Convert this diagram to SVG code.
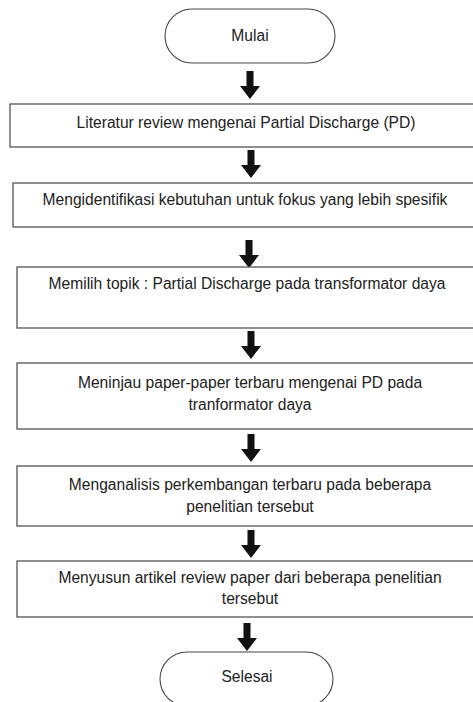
<svg xmlns="http://www.w3.org/2000/svg" width="473" height="702" viewBox="0 0 473 702">
<defs>
<style>
.box{fill:#fff;stroke:#555;stroke-width:1.3}
.term{fill:#fff;stroke:#444;stroke-width:1.1}
.t{font-family:"Liberation Sans",Arial,sans-serif;font-size:15.6px;fill:#222;text-anchor:middle}
.arr{fill:#111}
</style>
<symbol id="arrow" overflow="visible">
<path d="M-3.5,0 H3.5 V15 H10 L0,28 L-10,15 H-3.5 Z"/>
</symbol>
</defs>
<rect width="473" height="702" fill="#fff"/>
<g id="connectors" class="arr">
<use href="#arrow" x="250" y="71"/>
<use href="#arrow" x="251" y="150"/>
<use href="#arrow" x="249" y="240"/>
<use href="#arrow" x="251" y="331"/>
<use href="#arrow" x="251" y="434"/>
<use href="#arrow" x="251" y="530"/>
<use href="#arrow" x="247" y="623"/>
</g>
<g id="mulai">
<rect class="term" x="165" y="9" width="170" height="54" rx="27"/>
<text class="t" x="250" y="41">Mulai</text>
</g>
<g id="step1">
<rect class="box" x="10" y="104" width="475" height="43"/>
<text class="t" x="246" y="128">Literatur review mengenai Partial Discharge (PD)</text>
</g>
<g id="step2">
<rect class="box" x="13" y="183" width="475" height="44"/>
<text class="t" x="245" y="205">Mengidentifikasi kebutuhan untuk fokus yang lebih spesifik</text>
</g>
<g id="step3">
<rect class="box" x="17" y="267" width="470" height="61"/>
<text class="t" x="247" y="289">Memilih topik : Partial Discharge pada transformator daya</text>
</g>
<g id="step4">
<rect class="box" x="17" y="363" width="470" height="66"/>
<text class="t" x="250" y="388">Meninjau paper-paper terbaru mengenai PD pada</text>
<text class="t" x="250" y="410">tranformator daya</text>
</g>
<g id="step5">
<rect class="box" x="17" y="466" width="470" height="60"/>
<text class="t" x="250" y="490">Menganalisis perkembangan terbaru pada beberapa</text>
<text class="t" x="250" y="512">penelitian tersebut</text>
</g>
<g id="step6">
<rect class="box" x="17" y="561" width="470" height="56"/>
<text class="t" x="250" y="583">Menyusun artikel review paper dari beberapa penelitian</text>
<text class="t" x="250" y="604">tersebut</text>
</g>
<g id="selesai">
<rect class="term" x="160" y="652" width="173" height="54" rx="27"/>
<text class="t" x="247" y="682">Selesai</text>
</g>
</svg>
